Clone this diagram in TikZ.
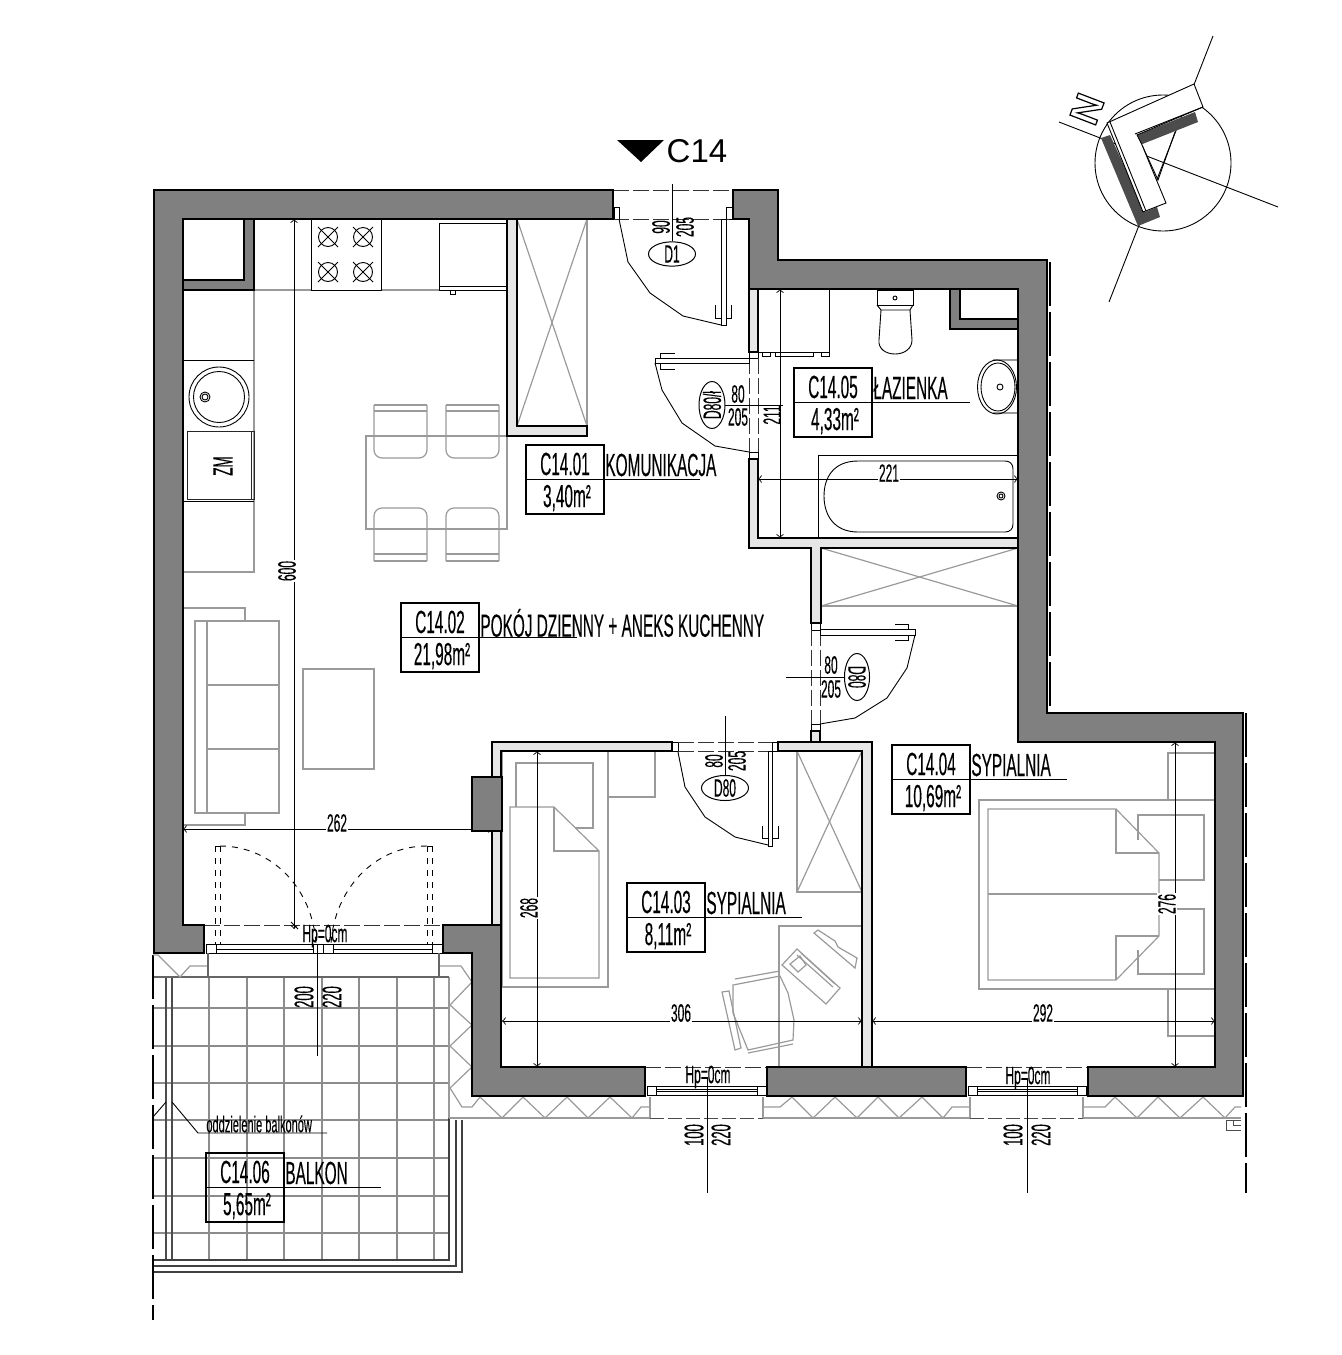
\documentclass[tikz,border=0pt]{standalone}
\usepackage{fontspec}
\usetikzlibrary{shapes.geometric}
\setmainfont{Liberation Sans}
\newfontfamily\narrowfont[FakeStretch=0.48,FakeBold=0.2]{Liberation Sans}
\definecolor{wallgray}{HTML}{808080}
\definecolor{partgray}{HTML}{E6E6E6}
\definecolor{furngray}{HTML}{9A9A9A}
\tikzset{
  wall/.style={fill=wallgray,draw=black,line width=1.2pt,line join=miter},
  partition/.style={fill=partgray,draw=black,line width=1.1pt},
  furn/.style={draw=furngray,line width=0.6pt},
  fixture/.style={draw=black!85,line width=0.5pt},
  thinline/.style={draw=black,line width=0.45pt},
  gapline/.style={draw=black!80,line width=0.5pt,dash pattern=on 8pt off 2pt},
  dimline/.style={draw=black,line width=0.45pt,<->,>=to},
  outerdash/.style={draw=black,line width=0.55pt,dash pattern=on 22pt off 3pt},
  dimtxt/.style={font=\narrowfont\fontsize{12.5}{12.5}\selectfont,inner sep=0.5pt},
  dimgap/.style={dimtxt,fill=white},
  doortxt/.style={font=\narrowfont\fontsize{12.5}{12.5}\selectfont,inner sep=0pt},
  sizetxt/.style={font=\narrowfont\fontsize{13.5}{13.5}\selectfont,inner sep=0pt},
  roomtxt/.style={font=\narrowfont\fontsize{16}{16}\selectfont,inner sep=0pt},
  doortag/.style={ellipse,draw=black,line width=0.5pt,minimum width=23.5pt,minimum height=11.5pt,
    inner sep=0pt,font=\narrowfont\fontsize{12.5}{12.5}\selectfont},
  tile/.style={draw=black!45,line width=0.6pt}
}
\begin{document}
\begin{tikzpicture}[x=0.5pt,y=-0.5pt]
\useasboundingbox (0,0) rectangle (1341,1355);

% balcony tiles
\foreach \tx in {209,247,284,322,359,397,434} {
  \draw[tile] (\tx,977) -- (\tx,1260);
}
\foreach \ty in {1008,1046,1083,1120,1158,1196,1233} {
  \draw[tile] (153,\ty) -- (449,\ty);
}
\draw[furn] (449,977) -- (449,1118);
\draw[draw=black!70,line width=0.6pt] (166,977) -- (166,1260);
\draw[draw=black!70,line width=0.6pt] (172,977) -- (172,1260);
\draw[draw=black!60,line width=0.6pt] (153,977) -- (449,977);
\draw[draw=black!75,line width=0.6pt] (153,1260) -- (449,1260) -- (449,1118);
\draw[draw=black!75,line width=0.6pt] (153,1266) -- (456,1266) -- (456,1120);
\draw[draw=black!75,line width=0.6pt] (153,1272) -- (462,1272) -- (462,1120);
\draw[outerdash] (153,955) -- (153,1320);

% zigzag edge
\draw[furn] (153,955) -- (158,955) -- (180,977) -- (190,966) -- (208,966);
\draw[furn] (439,966) -- (461,966) -- (472,982) -- (450,1005) -- (472,1025) -- (450,1046)
  -- (472,1067) -- (450,1088) -- (462,1107) -- (472,1107) -- (480,1097) -- (502,1118)
  -- (523,1097) -- (545,1118) -- (567,1097) -- (588,1118) -- (610,1097) -- (632,1118)
  -- (641,1107) -- (650,1107);
\draw[furn] (763,1107) -- (780,1107) -- (792,1097) -- (813,1118) -- (835,1097) -- (857,1118)
  -- (878,1097) -- (899,1118) -- (922,1097) -- (943,1118) -- (952,1107) -- (970,1107);
\draw[furn] (1083,1107) -- (1105,1107) -- (1115,1097) -- (1137,1118) -- (1158,1097)
  -- (1180,1118) -- (1203,1097) -- (1225,1118) -- (1235,1107) -- (1241,1107);
\draw[furn] (449,1118) -- (650,1118);
\draw[furn] (763,1118) -- (970,1118);
\draw[furn] (1083,1118) -- (1241,1118);
\draw[furn] (650,1097) -- (650,1118);
\draw[furn] (763,1097) -- (763,1118);
\draw[furn] (970,1097) -- (970,1118);
\draw[furn] (1083,1097) -- (1083,1118);
\draw[draw=black!70,line width=0.5pt,dash pattern=on 7pt off 2pt] (650,1118) -- (763,1118);
\draw[draw=black!70,line width=0.5pt,dash pattern=on 7pt off 2pt] (970,1118) -- (1083,1118);
\draw[draw=black!70,line width=0.5pt] (1241,1120) -- (1226,1120) -- (1226,1130) -- (1241,1130);
\draw[draw=black!70,line width=0.5pt] (1233,1120) -- (1233,1125) -- (1241,1125);

% kitchen
\draw[furn] (254,290) -- (254,572) -- (183,572);
\draw[furn] (254,290) -- (311,290);
\draw[furn] (381,290) -- (439,290);
\draw[thinline] (183,360) -- (254,360);
\draw[thinline] (183,501) -- (254,501);
\draw[thinline] (219,397) circle (30);
\draw[thinline] (219,397) circle (25.5);
\draw[thinline] (205,397) circle (5);
\draw[thinline] (205,397) circle (3);
\draw[fixture] (187,431) rectangle (254,499);
\draw[fixture] (251,431) -- (251,499);
\node[roomtxt,rotate=90,font=\narrowfont\fontsize{14}{14}\selectfont] (dishwasher) at (223,466) {ZM};
\draw[thinline] (311,219) rectangle (381,290);
\foreach \bx/\by in {328/237,363/237,328/272,363/272} {
  \draw[thinline] (\bx,\by) circle (9.5);
  \draw[thinline] (\bx-10,\by-10) -- (\bx+10,\by+10);
  \draw[thinline] (\bx-10,\by+10) -- (\bx+10,\by-10);
}
\draw[thinline] (439,290) -- (439,223) -- (507,223);
\draw[thinline] (439,286) -- (507,286);
\draw[thinline] (439,290) -- (507,290);
\draw[thinline] (450,290) rectangle (455,294);

% table and chairs
\draw[furn] (366,436) rectangle (507,529);
\foreach \cx in {374,446} {
  \draw[furn,rounded corners=4pt] (\cx,405) -- (\cx,458) -- (\cx+53,458) -- (\cx+53,405);
  \draw[furn] (\cx,405) -- (\cx+53,405);
  \draw[furn] (\cx,411) -- (\cx+53,411);
  \draw[furn,rounded corners=4pt] (\cx,561) -- (\cx,508) -- (\cx+53,508) -- (\cx+53,561);
  \draw[furn] (\cx,561) -- (\cx+53,561);
  \draw[furn] (\cx,554) -- (\cx+53,554);
}

% sofa
\draw[furn] (183,608) -- (245,608) -- (245,621);
\draw[furn] (245,813) -- (245,825) -- (183,825);
\draw[furn] (195,621) rectangle (279,813);
\draw[furn] (207,621) -- (207,813);
\draw[furn] (207,685) -- (279,685);
\draw[furn] (207,749) -- (279,749);
\draw[furn] (303,669) rectangle (374,769);

% closets
\draw[furn] (517,219) rectangle (587,426);
\draw[furn] (517,219) -- (587,426);
\draw[furn] (587,219) -- (517,426);
\draw[furn] (821,548) rectangle (1018,606);
\draw[furn] (821,548) -- (1018,606);
\draw[furn] (1018,548) -- (821,606);
\draw[furn] (797,751) rectangle (862,892);
\draw[furn] (797,751) -- (862,892);
\draw[furn] (862,751) -- (797,892);

% bathroom
\draw[thinline] (758,289) -- (829,289) -- (829,352) -- (758,352);
\draw[thinline] (762,352) rectangle (770,356);
\draw[thinline] (775,352) rectangle (813,356);
\draw[thinline] (821,352) rectangle (829,356);
\draw[thinline] (877,290) rectangle (913,305);
\draw[thinline] (895,298) circle (2);
\draw[thinline] (881,310) -- (910,310) -- (912,340) .. controls (912,349) and (904,354) .. (895,354)
  .. controls (886,354) and (878,349) .. (879,340) -- cycle;
\draw[thinline] (877,305) -- (881,310);
\draw[thinline] (913,305) -- (910,310);
\draw[furn] (993,360) -- (1018,360);
\draw[furn] (993,413) -- (1018,413);
\draw[thinline] (997,387) ellipse (19.5 and 27);
\draw[thinline] (998,387) ellipse (17 and 24);
\draw[thinline] (1000,387) circle (3);
\draw[thinline] (818,538) -- (818,455) -- (1018,455);
\draw[thinline] (858,461) -- (1005,461) .. controls (1010,461) and (1013,464) .. (1013,469)
  -- (1013,524) .. controls (1013,529) and (1010,532) .. (1005,532) -- (858,532)
  .. controls (834,532) and (824,515) .. (824,496) .. controls (824,477) and (834,461) .. (858,461) -- cycle;
\draw[thinline] (1001,496) circle (4);
\draw[thinline] (1001,496) circle (2);

% bedroom C14.03
\draw[furn] (502,751) rectangle (608,987);
\draw[furn] (608,751) -- (655,751) -- (655,797) -- (608,797);
\draw[furn] (516,807) -- (516,763) -- (593,763) -- (593,828) -- (575,828);
\draw[furn] (510,807) -- (554,807) -- (599,851) -- (599,978) -- (510,978) -- cycle;
\draw[furn] (554,807) -- (554,851) -- (599,851);
\draw[furn] (862,926) -- (779,926) -- (779,1067);
\draw[furn] (733,985) -- (780,976) -- (788,993) -- (794,1020) -- (793,1040) -- (748,1050) -- (733,1013) -- cycle;
\draw[furn] (735,979) -- (780,971);
\draw[furn] (748,1053) -- (793,1044);
\draw[furn] (722,992) -- (729,991) -- (741,1048) -- (735,1050) -- cycle;
\draw[furn] (782,965) -- (797,949) -- (840,988) -- (826,1004) -- cycle;
\draw[furn] (797,955) -- (833,987);
\draw[furn] (801,953) -- (835,984);
\draw[furn] (790,964) -- (800,956) -- (806,965) -- (798,972) -- cycle;
\draw[furn] (814,933) -- (818,930) -- (835,941) -- (838,947) -- (857,958) -- (855,968) -- cycle;

% bedroom C14.04
\draw[furn] (1215,800) -- (979,800) -- (979,989) -- (1215,989);
\draw[furn] (1168,800) -- (1168,753) -- (1215,753);
\draw[furn] (1168,989) -- (1168,1036) -- (1215,1036);
\draw[furn] (1138,840) -- (1138,815) -- (1204,815) -- (1204,880) -- (1159,880);
\draw[furn] (1138,950) -- (1138,974) -- (1204,974) -- (1204,909) -- (1159,909);
\draw[furn] (988,809) -- (1116,809) -- (1159,853) -- (1159,936) -- (1116,980) -- (988,980) -- cycle;
\draw[furn] (1116,809) -- (1116,853) -- (1159,853);
\draw[furn] (1116,980) -- (1116,936) -- (1159,936);
\draw[furn] (988,894) -- (1159,894);

% light partitions
\draw[partition] (507,219) -- (517,219) -- (517,426) -- (587,426) -- (587,436) -- (507,436) -- cycle;
\draw[partition] (749,289) -- (758,289) -- (758,352) -- (749,352) -- cycle;
\draw[partition] (749,459) -- (758,459) -- (758,538) -- (1018,538) -- (1018,548) -- (821,548)
  -- (821,623) -- (811,623) -- (811,548) -- (749,548) -- cycle;
\draw[partition] (492,777) -- (492,742) -- (672,742) -- (672,751) -- (501,751) -- (501,777) -- cycle;
\draw[partition] (492,831) -- (501,831) -- (501,925) -- (492,925) -- cycle;
\draw[partition] (778,742) -- (872,742) -- (872,1067) -- (862,1067) -- (862,751) -- (778,751) -- cycle;
\draw[partition] (811,731) rectangle (820,742);

% door jambs
\draw[thinline] (749,352) rectangle (758,358);
\draw[thinline] (749,452) rectangle (758,459);
\draw[thinline] (811,623) rectangle (820,630);
\draw[thinline] (811,724) rectangle (820,731);
\draw[thinline] (672,742) rectangle (678,751);
\draw[thinline] (772,742) rectangle (778,751);
\draw[thinline] (614,207) rectangle (619,219);
\draw[thinline] (726,207) rectangle (733,219);

% door openings
\draw[gapline] (613,190) -- (733,190);
\draw[gapline] (613,219) -- (733,219);
\draw[gapline] (749,358) -- (749,452);
\draw[gapline] (758,358) -- (758,452);
\draw[gapline] (811,630) -- (811,724);
\draw[gapline] (820,630) -- (820,724);
\draw[gapline] (678,742) -- (772,742);
\draw[gapline] (678,751) -- (772,751);
\draw[gapline] (645,1067) -- (767,1067);
\draw[gapline] (966,1067) -- (1088,1067);
\draw[gapline] (204,925) -- (443,925);

% door leaves
\draw[thinline] (721,219) rectangle (726,325);
\draw[thinline] (619,219) -- (628,262) -- (650,293) -- (683,316) -- (721,325);
\draw[thinline] (715,305) -- (715,318) -- (721,318);
\draw[thinline] (731,305) -- (731,318) -- (726,318);
\draw[thinline] (655,358) rectangle (749,363);
\draw[thinline] (655,363) -- (662,390) -- (682,423) -- (715,446) -- (749,452);
\draw[thinline] (675,353) -- (660,353) -- (660,358);
\draw[thinline] (675,369) -- (660,369) -- (660,363);
\draw[thinline] (820,629) rectangle (915,635);
\draw[thinline] (915,635) -- (907,668) -- (887,698) -- (855,718) -- (820,724);
\draw[thinline] (895,624) -- (908,624) -- (908,629);
\draw[thinline] (895,640) -- (908,640) -- (908,635);
\draw[thinline] (768,751) rectangle (772,846);
\draw[thinline] (678,752) -- (685,787) -- (705,817) -- (735,837) -- (768,845);
\draw[thinline] (762,826) -- (762,838) -- (768,838);
\draw[thinline] (778,826) -- (778,838) -- (772,838);

% balcony door
\draw[thinline] (206,944) rectangle (442,953);
\draw[thinline] (206,944) rectangle (216,953);
\draw[thinline] (432,944) rectangle (442,953);
\draw[thinline] (216,949) -- (313,949);
\draw[thinline] (333,949) -- (432,949);
\draw[thinline] (313,944) rectangle (333,953);
\draw[thinline] (317,944) -- (317,953);
\draw[thinline] (323,944) -- (323,953);
\draw[thinline,dashed] (215,846) -- (215,944);
\draw[thinline,dashed] (220,846) -- (220,944);
\draw[thinline,dashed] (427,846) -- (427,944);
\draw[thinline,dashed] (432,846) -- (432,944);
\draw[thinline] (215,846) -- (220,846);
\draw[thinline] (427,846) -- (432,846);
\draw[thinline,dashed] (220,846) .. controls (273,846) and (313,890) .. (316,944);
\draw[thinline,dashed] (427,846) .. controls (374,846) and (334,890) .. (331,944);
\draw[draw=black!60,line width=0.6pt] (208,953) -- (208,977);
\draw[draw=black!60,line width=0.6pt] (439,953) -- (439,977);

% windows
\draw[thinline] (647,1086) rectangle (766,1095);
\draw[thinline] (647,1086) rectangle (656,1095);
\draw[thinline] (757,1086) rectangle (766,1095);
\draw[thinline] (656,1089) -- (757,1089);
\draw[thinline] (656,1091) -- (757,1091);
\draw[thinline] (968,1086) rectangle (1086,1095);
\draw[thinline] (968,1086) rectangle (977,1095);
\draw[thinline] (1077,1086) rectangle (1086,1095);
\draw[thinline] (977,1089) -- (1077,1089);
\draw[thinline] (977,1091) -- (1077,1091);

% this one runs behind the pillar
\draw[dimline] (183,829) -- (492,829);

% load bearing walls
\draw[wall] (154,190) -- (613,190) -- (613,219) -- (183,219) -- (183,925) -- (204,925) -- (204,953) -- (154,953) -- cycle;
\draw[wall] (733,190) -- (778,190) -- (778,260) -- (1047,260) -- (1047,713) -- (1243,713) -- (1243,1096) -- (1088,1096)
  -- (1088,1067) -- (1215,1067) -- (1215,742) -- (1018,742) -- (1018,289) -- (749,289) -- (749,219) -- (733,219) -- cycle;
\draw[wall] (443,925) -- (501,925) -- (501,1067) -- (645,1067) -- (645,1096) -- (472,1096) -- (472,953) -- (443,953) -- cycle;
\draw[wall] (767,1067) rectangle (966,1096);
\draw[wall] (472,777) rectangle (502,831);
\draw[wall] (244,219) -- (254,219) -- (254,290) -- (183,290) -- (183,280) -- (244,280) -- cycle;
\draw[wall] (950,289) -- (960,289) -- (960,319) -- (1018,319) -- (1018,329) -- (950,329) -- cycle;
\draw[outerdash] (1050,262) -- (1050,713);
\draw[outerdash] (1246,713) -- (1246,1193);

% dimensions
\draw[dimline] (294,219) -- (294,929);
\node[dimgap,rotate=90] (dimlength) at (287,571) {600};
\node[dimgap] (dimliving) at (337,823) {262};
\draw[dimline] (537,751) -- (537,1067);
\node[dimgap,rotate=90] (dimroomtwo) at (529,908) {268};
\draw[dimline] (502,1021) -- (862,1021);
\node[dimgap] (dimroomwide) at (681,1013) {306};
\draw[dimline] (1175,742) -- (1175,1067);
\node[dimgap,rotate=90] (dimbedtwo) at (1167,904) {276};
\draw[dimline] (872,1021) -- (1215,1021);
\node[dimgap] (dimbedwide) at (1043,1013) {292};
\draw[dimline] (780,289) -- (780,538);
\node[dimtxt,rotate=90] (dimbath) at (772,415) {211};
\draw[dimline] (758,479) -- (1018,479);
\node[dimgap] (dimbathwide) at (889,473) {221};

% door tags
\node[doortag] (tagentry) at (672,254) {D1};
\draw[thinline] (672,184) -- (tagentry.north);
\node[doortxt,rotate=90] (entrya) at (661,227) {90};
\node[doortxt,rotate=90] (entryb) at (685,227) {205};
\node[doortag,rotate=90] (tagbath) at (712,405) {D80/ł};
\draw[thinline] (tagbath.south) -- (783,405);
\node[doortxt] (batha) at (738,394) {80};
\node[doortxt] (bathb) at (738,417) {205};
\node[doortag,rotate=-90] (tagroom) at (857,677) {D80};
\draw[thinline] (786,677) -- (tagroom.south);
\node[doortxt] (rooma) at (831,665) {80};
\node[doortxt] (roomb) at (831,689) {205};
\node[doortag] (tagsleep) at (725,788) {D80};
\draw[thinline] (725,716) -- (tagsleep.north);
\node[doortxt,rotate=90] (sleepa) at (714,761) {80};
\node[doortxt,rotate=90] (sleepb) at (737,761) {205};

% balcony door and window marks
\draw[thinline] (291,922) -- (298,929);
\node[doortxt] (hpdoor) at (325,936) {Hp=0cm};
\draw[thinline] (317,945) -- (317,1056);
\node[sizetxt,rotate=90] (doorsill) at (304,997) {200};
\node[sizetxt,rotate=90] (doorhead) at (332,997) {220};
\node[doortxt] (hpwina) at (708,1077) {Hp=0cm};
\draw[thinline] (707,1077) -- (707,1193);
\node[sizetxt,rotate=90] (winasill) at (694,1135) {100};
\node[sizetxt,rotate=90] (winahead) at (721,1135) {220};
\node[doortxt] (hpwinb) at (1028,1078) {Hp=0cm};
\draw[thinline] (1027,1078) -- (1027,1193);
\node[sizetxt,rotate=90] (winbsill) at (1013,1135) {100};
\node[sizetxt,rotate=90] (winbhead) at (1041,1135) {220};

% balcony note
\draw[thinline] (172,1102) -- (198,1133) -- (327,1133);
\draw[thinline] (153,1117) -- (166,1102);
\node[doortxt,anchor=west,font=\narrowfont\fontsize{11.5}{11.5}\selectfont] (balconynote) at (206,1124) {oddzielenie balkonów};

% room tags
\foreach \rn/\rx/\ry/\rcode/\rarea/\rtitle/\rend in {
  one/526/445/C14.01/{3,40m²}/KOMUNIKACJA/700,
  two/401/603/C14.02/{21,98m²}/POKÓJ DZIENNY + ANEKS KUCHENNY/577,
  three/627/883/C14.03/{8,11m²}/SYPIALNIA/802,
  four/892/745/C14.04/{10,69m²}/SYPIALNIA/1067,
  five/794/368/C14.05/{4,33m²}/ŁAZIENKA/970,
  six/206/1153/C14.06/{5,65m²}/BALKON/381} {
  \draw[draw=black,line width=0.75pt] (\rx,\ry) rectangle (\rx+78,\ry+69);
  \draw[draw=black,line width=0.75pt] (\rx,\ry+34.5) -- (\rend,\ry+34.5);
  \node[roomtxt] (code\rn) at (\rx+39,\ry+19) {\rcode};
  \node[roomtxt] (area\rn) at (\rx+41,\ry+53) {\rarea};
  \node[roomtxt,anchor=west] (title\rn) at (\rx+79,\ry+20) {\rtitle};
}

% stair marker
\fill[black] (617,140) -- (664,140) -- (641,162) -- cycle;
\node[inner sep=0pt,font=\fontsize{16.5}{17}\selectfont] (flatname) at (697,151) {C14};

% north sign
\draw[thinline] (1163,163) circle (68);
\draw[thinline] (1059,122) -- (1278,207);
\draw[thinline] (1213,36) -- (1109,302);
\draw[thinline] (1175,132) -- (1158,180) -- (1142,145);
\fill[black!70] (1137,135) -- (1195,112) -- (1198,122) -- (1140,145) -- cycle;
\fill[black!70] (1101,138) -- (1110,135) -- (1145,212) -- (1157,207) -- (1160,217) -- (1138,226) -- cycle;
\draw[thinline,fill=white] (1107,123) -- (1194,84) -- (1203,107) -- (1137,135) -- (1142,145) -- (1166,203) -- (1143,212) -- cycle;
\draw[thinline] (1110,122) -- (1146,211);
\draw[thinline] (1135,134) -- (1203,107);
\node[inner sep=0pt,rotate=69,font=\bfseries\fontsize{20}{20}\selectfont] (north) at (1087,109)
  {\special{pdf:code 1 Tr 0.6 w}N\special{pdf:code 0 Tr}};
\end{tikzpicture}
\end{document}
